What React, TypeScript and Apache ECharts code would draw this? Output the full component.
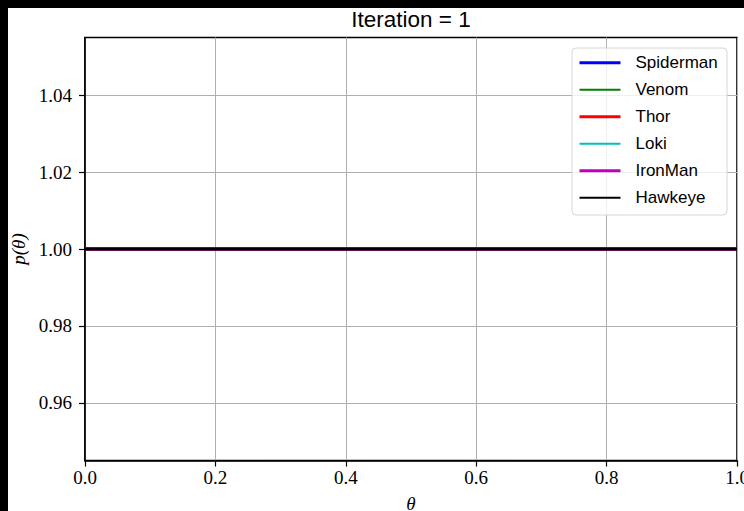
import React, { useEffect, useRef } from "react";
import * as echarts from "echarts";

const titleText = "Iteration = 1";
const thetaValues = [0, 0.25, 0.5, 0.75, 1];
const spidermanValues = [1, 1, 1, 1, 1];
const venomValues = [1, 1, 1, 1, 1];
const thorValues = [1, 1, 1, 1, 1];
const lokiValues = [1, 1, 1, 1, 1];
const ironManValues = [1, 1, 1, 1, 1];
const hawkeyeValues = [1, 1, 1, 1, 1];
const seriesNames = ["Spiderman", "Venom", "Thor", "Loki", "IronMan", "Hawkeye"];
const seriesValues = [spidermanValues, venomValues, thorValues, lokiValues, ironManValues, hawkeyeValues];
const seriesColors = ["#0000ff", "#008000", "#ff0000", "#00bfbf", "#bf00bf", "#000000"];
const seriesWidths = [3, 2, 3, 2, 3, 3];
const legendWidths = [3, 2, 3, 2, 3, 2];
const xTicks = [0, 0.2, 0.4, 0.6, 0.8, 1.0];
const yTicks = [0.96, 0.98, 1.0, 1.02, 1.04];
const yMin = 0.945;
const yMax = 1.055;

export default function App() {
  const ref = useRef<HTMLDivElement>(null);
  useEffect(() => {
    document.documentElement.style.background = "#000";
    document.documentElement.style.overflow = "hidden";
    document.body.style.background = "#000";
    const chart = echarts.init(ref.current!, null, { renderer: "svg" });
    const serif = "'Liberation Serif', serif";
    const sans = "'Liberation Sans', sans-serif";
    chart.setOption({
      animation: false,
      backgroundColor: "#ffffff",
      grid: {
        left: 77,
        right: 7,
        top: 29.5,
        bottom: 50.5,
        containLabel: false,
        outerBoundsMode: "none",
        show: true,
        borderColor: "#000",
        borderWidth: 1.6,
        backgroundColor: "#fff",
      },
      graphic: [
        {
          type: "text",
          x: 403,
          y: 11,
          z: 10,
          style: {
            text: titleText,
            font: `22.5px ${sans}`,
            fill: "#000",
            align: "center",
            verticalAlign: "middle",
          },
        },
        {
          type: "rect",
          z: 3,
          shape: { x: 564, y: 40, width: 155, height: 167, r: 4 },
          style: { fill: "rgba(255,255,255,0.8)", stroke: "#d6d6d6", lineWidth: 1 },
        },
      ],
      legend: {
        orient: "vertical",
        left: 570,
        top: 44.7,
        padding: 0,
        itemGap: 7,
        itemWidth: 41,
        itemHeight: 14,
        z: 5,
        itemStyle: { color: "transparent", borderWidth: 0, opacity: 0 },
        data: seriesNames.map((name, i) => ({
          name,
          lineStyle: { color: seriesColors[i], width: legendWidths[i] },
          itemStyle: { color: "transparent", borderWidth: 0, opacity: 0 },
        })),
        textStyle: {
          fontFamily: sans,
          fontSize: 17,
          color: "#000",
          lineHeight: 20,
          padding: [0, 0, 0, 10],
        },
      },
      xAxis: {
        type: "value",
        min: 0,
        max: 1,
        interval: 0.2,
        name: "θ",
        nameLocation: "middle",
        nameGap: 33.5,
        nameTextStyle: { fontFamily: serif, fontSize: 19, fontStyle: "italic", color: "#000" },
        axisLine: { show: true, lineStyle: { color: "#000", width: 1.6 } },
        axisTick: { show: true, inside: false, length: 6, lineStyle: { color: "#000", width: 1.2 }, customValues: xTicks },
        axisLabel: {
          margin: 7,
          fontFamily: serif,
          fontSize: 19,
          color: "#000",
          customValues: xTicks,
          formatter: (v: number) => v.toFixed(1),
        },
        splitLine: { show: true, lineStyle: { color: "#b0b0b0", width: 1 } },
      },
      yAxis: {
        type: "value",
        min: yMin,
        max: yMax,
        name: "p(θ)",
        nameLocation: "middle",
        nameGap: 56.5,
        nameTextStyle: { fontFamily: serif, fontSize: 19, fontStyle: "italic", color: "#000" },
        axisLine: { show: true, lineStyle: { color: "#000", width: 1.6 } },
        axisTick: { show: true, inside: false, length: 6, lineStyle: { color: "#000", width: 1.2 }, customValues: yTicks },
        axisLabel: {
          margin: 13,
          fontFamily: serif,
          fontSize: 19,
          color: "#000",
          customValues: yTicks,
          formatter: (v: number) => v.toFixed(2),
        },
        splitLine: { show: true, lineStyle: { color: "#b0b0b0", width: 1 } },
      },
      series: seriesNames.map((name, i) => ({
        name,
        type: "line",
        symbol: "none",
        showSymbol: false,
        data: thetaValues.map((t, j) => [t, seriesValues[i][j]]),
        lineStyle: { color: seriesColors[i], width: seriesWidths[i] },
        itemStyle: { color: seriesColors[i] },
        z: 2,
      })),
    });
    return () => chart.dispose();
  }, []);
  return (
    <div
      ref={ref}
      style={{ position: "fixed", left: 8, top: 8, width: 736, height: 503, background: "#fff" }}
    />
  );
}
